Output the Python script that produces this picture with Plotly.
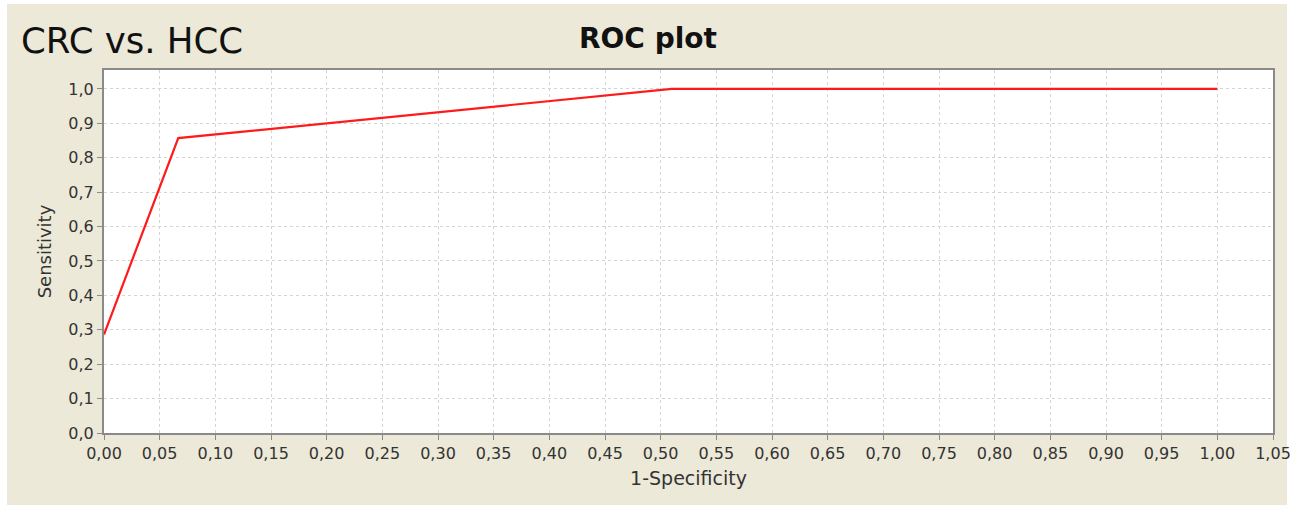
import plotly.graph_objects as go

# Data
fpr = [0.0, 0.0667, 0.51, 1.0]          # 1-Specificity
tpr = [0.286, 0.857, 1.0, 1.0]          # Sensitivity
x_ticks = [round(i * 0.05, 2) for i in range(22)]
y_ticks = [round(i * 0.1, 1) for i in range(11)]

W, H = 1292, 505
L, R, T, B = 104, 19, 70, 72
pw, ph = W - L - R, H - T - B

def px_x(p):
    return (p - L) / pw

def px_y(p):
    return (H - B - p) / ph

BEIGE = "#ECE9D8"
AXC = "#8a8a8a"
GRID = "#d4d4d4"
FONT = "DejaVu Sans"

fig = go.Figure()
fig.add_trace(go.Scatter(x=fpr, y=tpr, mode="lines",
                         line=dict(color="#ff1a1a", width=2.2),
                         showlegend=False, hoverinfo="skip", cliponaxis=False))

axis_common = dict(
    showline=True, linecolor=AXC, linewidth=2, mirror=True,
    ticks="outside", ticklen=5, tickcolor=AXC, tickwidth=1,
    showgrid=True, gridcolor=GRID, gridwidth=1, griddash="3px,3px",
    zeroline=False, automargin=False,
    tickfont=dict(family=FONT, size=16, color="#333333"),
)

fig.update_xaxes(range=[0, 1.05], tickvals=x_ticks, tickformat=".2f",
                 title=dict(text="1-Specificity", font=dict(family=FONT, size=19, color="#333333"), standoff=9),
                 **axis_common)
fig.update_yaxes(range=[0, 1.055], tickvals=y_ticks, tickformat=".1f",
                 title=dict(text="Sensitivity", font=dict(family=FONT, size=18, color="#333333"), standoff=12),
                 **axis_common)

shapes = [
    dict(type="rect", xref="paper", yref="paper", x0=px_x(0), x1=px_x(W), y0=px_y(0), y1=px_y(4),
         fillcolor="white", line_width=0, layer="below"),
    dict(type="rect", xref="paper", yref="paper", x0=px_x(0), x1=px_x(7), y0=px_y(0), y1=px_y(H),
         fillcolor="white", line_width=0, layer="below"),
    dict(type="rect", xref="paper", yref="paper", x0=px_x(1287), x1=px_x(W), y0=px_y(0), y1=px_y(H),
         fillcolor="white", line_width=0, layer="below"),
]

annotations = [
    dict(text="CRC vs. HCC", xref="paper", yref="paper", x=px_x(19), y=px_y(41),
         xanchor="left", yanchor="middle", showarrow=False,
         font=dict(family=FONT, size=35.5, color="#111111")),
    dict(text="<b>ROC plot</b>", xref="paper", yref="paper", x=px_x(648), y=px_y(39),
         xanchor="center", yanchor="middle", showarrow=False,
         font=dict(family=FONT, size=28, color="#111111")),
]

fig.update_layout(
    width=W, height=H, autosize=False,
    margin=dict(l=L, r=R, t=T, b=B),
    paper_bgcolor=BEIGE, plot_bgcolor="white",
    separators=", ",
    shapes=shapes, annotations=annotations,
    showlegend=False,
)

fig.write_html(
    "out.html",
    config={"responsive": False, "displayModeBar": False},
    post_script="document.body.style.margin='0';document.body.style.overflow='hidden';",
)
